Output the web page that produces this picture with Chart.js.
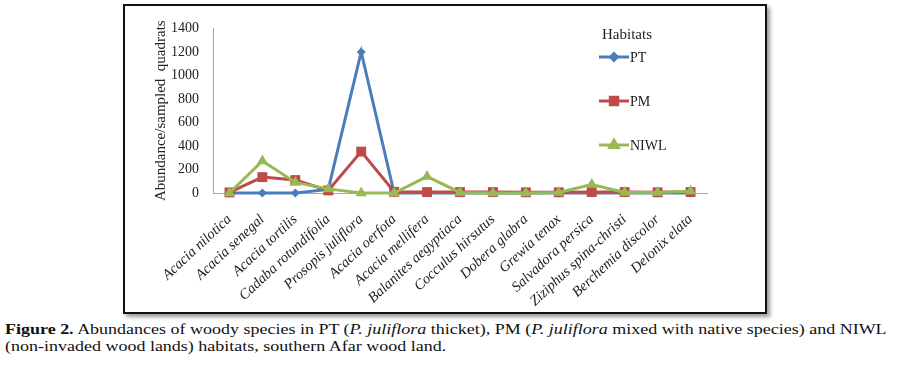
<!DOCTYPE html>
<html>
<head>
<meta charset="utf-8">
<script src="https://cdn.jsdelivr.net/npm/chart.js@4.4.0/dist/chart.umd.min.js"></script>
<style>
  body { margin: 0; background: #fff; width: 897px; height: 375px; position: relative; overflow: hidden; }
  #frame { position: absolute; left: 123px; top: 4px; width: 640px; height: 306px;
           border: 2px solid #111; box-shadow: 3px 3px 4px #9a9a9a; background: #fff; }
  #caption { position: absolute; left: 5px; top: 321px; white-space: nowrap;
             font-size: 14px; line-height: 17px; color: #111;
             transform: scaleX(1.285); transform-origin: 0 0; }
</style>
</head>
<body>
<div id="frame"><canvas id="chart" width="640" height="306"></canvas></div>
<div id="caption" style="font-family: 'Liberation Serif', 'Times New Roman', Times, serif;"><b>Figure 2.</b> Abundances of woody species in PT (<i>P. juliflora</i> thicket), PM (<i>P. juliflora</i> mixed with native species) and NIWL<br>(non-invaded wood lands) habitats, southern Afar wood land.</div>
<script>
// species (x categories)
const speciesLabels = ['Acacia nilotica', 'Acacia senegal', 'Acacia tortilis', 'Cadaba rotundifolia',
  'Prosopis juliflora', 'Acacia oerfota', 'Acacia mellifera', 'Balanites aegyptiaca',
  'Cocculus hirsutus', 'Dobera glabra', 'Grewia tenax', 'Salvadora persica',
  'Ziziphus spina-christi', 'Berchemia discolor', 'Delonix elata'];

// abundance / sampled quadrats, per habitat
const ptValues   = [0, 0, 0, 30, 1200, 0, 0, 0, 0, 0, 0, 0, 0, 0, 0];
const pmValues   = [5, 135, 110, 22, 352, 10, 8, 8, 8, 6, 6, 8, 8, 6, 8];
const niwlValues = [0, 272, 90, 35, 0, 0, 140, 5, 0, 0, 5, 72, 5, 5, 15];

const yTicks = [0, 200, 400, 600, 800, 1000, 1200, 1400];

const serif = "'Liberation Serif', 'Times New Roman', serif";

// legend drawn inside the plot, like the Excel original
const habitatLegend = {
  id: 'habitatLegend',
  afterDraw(chart) {
    const ctx = chart.ctx;
    ctx.save();
    ctx.fillStyle = '#222';
    ctx.font = '15px ' + serif;
    ctx.textBaseline = 'middle';
    ctx.fillText('Habitats', 477, 29);
    const rows = [51, 95, 139];
    ctx.font = '14px ' + serif;
    chart.data.datasets.forEach((ds, i) => {
      const y = rows[i];
      ctx.strokeStyle = ds.borderColor;
      ctx.lineWidth = 3;
      ctx.beginPath();
      ctx.moveTo(474, y);
      ctx.lineTo(504, y);
      ctx.stroke();
      Chart.helpers.drawPoint(ctx, {
        pointStyle: ds.pointStyle, radius: ds.pointRadius * 0.75, borderWidth: 1
      }, 489, y);
      ctx.fillStyle = ds.borderColor;
      ctx.fill();
      ctx.fillStyle = '#222';
      ctx.fillText(ds.label, 505, y + 1);
    });
    ctx.restore();
  }
};

new Chart(document.getElementById('chart'), {
  type: 'line',
  data: {
    labels: speciesLabels,
    datasets: [
      { label: 'PT', data: ptValues, borderColor: '#4A7EBB', backgroundColor: '#4A7EBB',
        pointStyle: 'rectRot', pointRadius: 4.5, order: 3 },
      { label: 'PM', data: pmValues, borderColor: '#BE4B48', backgroundColor: '#BE4B48',
        pointStyle: 'rect', pointRadius: 7, order: 2 },
      { label: 'NIWL', data: niwlValues, borderColor: '#98B954', backgroundColor: '#98B954',
        pointStyle: 'triangle', pointRadius: 6.5, order: 1 }
    ]
  },
  options: {
    responsive: false,
    animation: false,
    devicePixelRatio: 1,
    layout: { padding: { left: 0, top: 11, right: 58, bottom: 0 } },
    elements: {
      line: { borderWidth: 3, tension: 0 },
      point: { borderWidth: 0, hoverRadius: 6 }
    },
    clip: false,
    plugins: { legend: { display: false }, tooltip: { enabled: false } },
    scales: {
      x: {
        offset: true,
        grid: { display: false, drawTicks: false },
        border: { color: '#A6A6A6', width: 1 },
        ticks: {
          autoSkip: false, maxRotation: 43, minRotation: 43, padding: 18,
          color: '#222', font: { family: serif, size: 14.5, style: 'italic' }
        },
        afterFit(scale) { scale.height = 119; }
      },
      y: {
        min: 0, max: 1400,
        afterBuildTicks(scale) { scale.ticks = yTicks.map(v => ({ value: v })); },
        grid: { display: false, drawTicks: false },
        border: { color: '#A6A6A6', width: 1 },
        ticks: {
          padding: 14, color: '#222', font: { family: serif, size: 14 },
          callback: v => String(v)
        },
        title: {
          display: true, text: 'Abundance/sampled  quadrats', color: '#222',
          font: { family: serif, size: 15 }, padding: { top: 27, bottom: 0 }
        },
        afterFit(scale) { scale.width = 88; }
      }
    }
  },
  plugins: [habitatLegend]
});
</script>
</body>
</html>
